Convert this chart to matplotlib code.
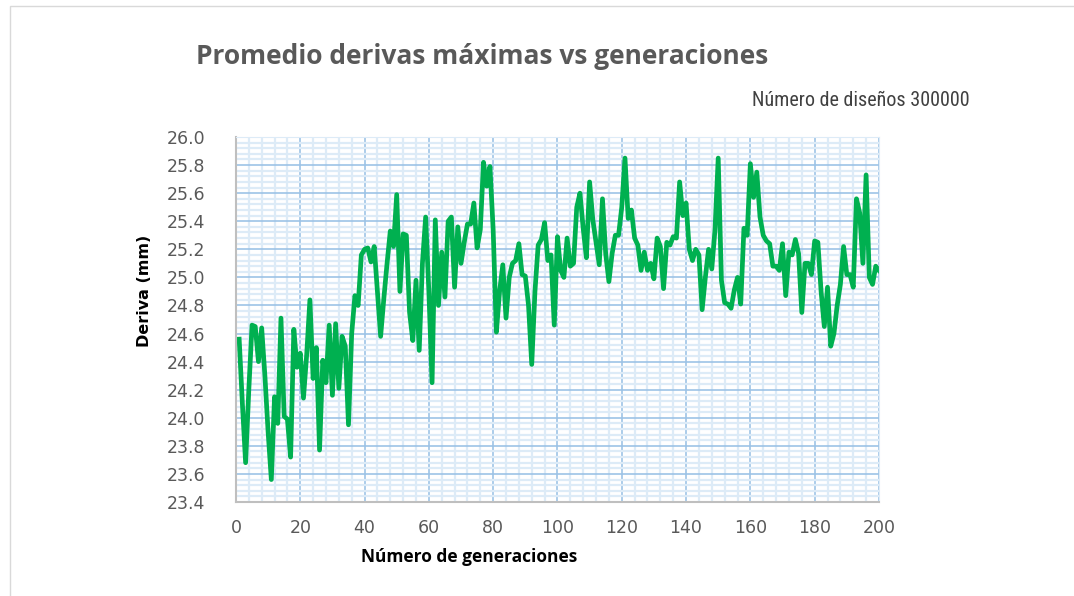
import matplotlib.pyplot as plt
from matplotlib.ticker import MultipleLocator, FormatStrFormatter
from matplotlib.patches import Rectangle

# promedio de derivas maximas por generacion
generaciones = list(range(1, 201))
deriva = [
    24.56, 24.10, 23.68, 24.20, 24.66, 24.65, 24.40, 24.64, 24.30, 23.90,
    23.56, 24.15, 23.96, 24.71, 24.01, 23.99, 23.72, 24.63, 24.36, 24.46,
    24.14, 24.45, 24.84, 24.28, 24.50, 23.77, 24.41, 24.25, 24.66, 24.16,
    24.67, 24.21, 24.58, 24.51, 23.95, 24.60, 24.87, 24.80, 25.16, 25.20,
    25.21, 25.11, 25.22, 24.90, 24.58, 24.85, 25.10, 25.33, 25.22, 25.59,
    24.90, 25.31, 25.30, 24.75, 24.55, 24.98, 24.48, 25.10, 25.43, 24.90,
    24.25, 25.41, 24.80, 25.18, 24.86, 25.40, 25.43, 24.93, 25.36, 25.10,
    25.25, 25.38, 25.38, 25.53, 25.21, 25.34, 25.82, 25.65, 25.79, 25.34,
    24.61, 24.90, 25.09, 24.71, 25.00, 25.10, 25.12, 25.24, 25.02, 25.01,
    24.80, 24.38, 24.90, 25.23, 25.27, 25.39, 25.12, 25.16, 24.66, 25.29,
    25.05, 25.00, 25.28, 25.08, 25.10, 25.50, 25.60, 25.35, 25.14, 25.68,
    25.41, 25.25, 25.09, 25.56, 25.17, 24.97, 25.17, 25.30, 25.30, 25.50,
    25.85, 25.42, 25.48, 25.28, 25.23, 25.05, 25.18, 25.05, 25.10, 24.99,
    25.28, 25.22, 24.92, 25.25, 25.23, 25.29, 25.28, 25.68, 25.44, 25.53,
    25.20, 25.12, 25.20, 25.16, 24.77, 25.00, 25.20, 25.06, 25.34, 25.85,
    24.98, 24.82, 24.81, 24.78, 24.91, 25.00, 24.81, 25.35, 25.30, 25.81,
    25.57, 25.75, 25.43, 25.30, 25.26, 25.24, 25.08, 25.08, 25.05, 25.24,
    24.87, 25.18, 25.16, 25.27, 25.17, 24.75, 25.10, 25.10, 25.02, 25.26,
    25.25, 24.90, 24.65, 24.93, 24.51, 24.60, 24.80, 24.95, 25.22, 25.02,
    25.02, 24.93, 25.56, 25.46, 25.10, 25.73, 25.00, 24.95, 25.08, 25.05,
]

gris = '#595959'

fig = plt.figure(figsize=(10.74, 5.96), dpi=100)
fig.patches.append(Rectangle((0.0093, -0.01), 1.2, 1.0, transform=fig.transFigure,
                             fill=False, edgecolor='#D9D9D9', linewidth=1))
ax = fig.add_axes([0.2197, 0.1577, 0.5987, 0.6124])

ax.plot(generaciones, deriva, color='#00B050', linewidth=3.4, solid_joinstyle='round')

ax.set_xlim(0, 200)
ax.set_ylim(23.4, 26.0)
ax.xaxis.set_major_locator(MultipleLocator(20))
ax.xaxis.set_minor_locator(MultipleLocator(4))
ax.yaxis.set_major_locator(MultipleLocator(0.2))
ax.yaxis.set_minor_locator(MultipleLocator(0.04))
ax.yaxis.set_major_formatter(FormatStrFormatter('%.1f'))

ax.grid(which='minor', color='#DDEBF7', linewidth=1.6)
ax.grid(which='major', color='#9DC3E6', linewidth=1.2)
ax.set_axisbelow(True)
ax.tick_params(which='both', length=0)
ax.tick_params(axis='y', pad=22, labelsize=12.5, labelcolor=gris)
ax.tick_params(axis='x', pad=12, labelsize=12.5, labelcolor=gris)

for s in ['top', 'right']:
    ax.spines[s].set_color('#DDEBF7')
for s in ['left', 'bottom']:
    ax.spines[s].set_color('#BFBFBF')
    ax.spines[s].set_linewidth(1.5)

fig.text(0.1825, 0.906, 'Promedio derivas máximas vs generaciones', fontsize=19,
         fontweight='bold', color=gris, ha='left', va='center', family='Open Sans')
fig.text(0.903, 0.832, 'Número de diseños 300000', fontsize=14.5, color='#404040',
         ha='right', va='center', stretch='condensed',
         family=['DejaVu Sans Condensed', 'Liberation Sans Narrow', 'Roboto Condensed', 'Roboto'])
fig.text(0.437, 0.065, 'Número de generaciones', fontsize=12.5, fontweight='bold',
         ha='center', va='center', family='Open Sans')
fig.text(0.135, 0.512, 'Deriva (mm)', fontsize=11.5, fontweight='bold', rotation=90,
         ha='center', va='center')

fig.savefig('out.png', dpi=100)
